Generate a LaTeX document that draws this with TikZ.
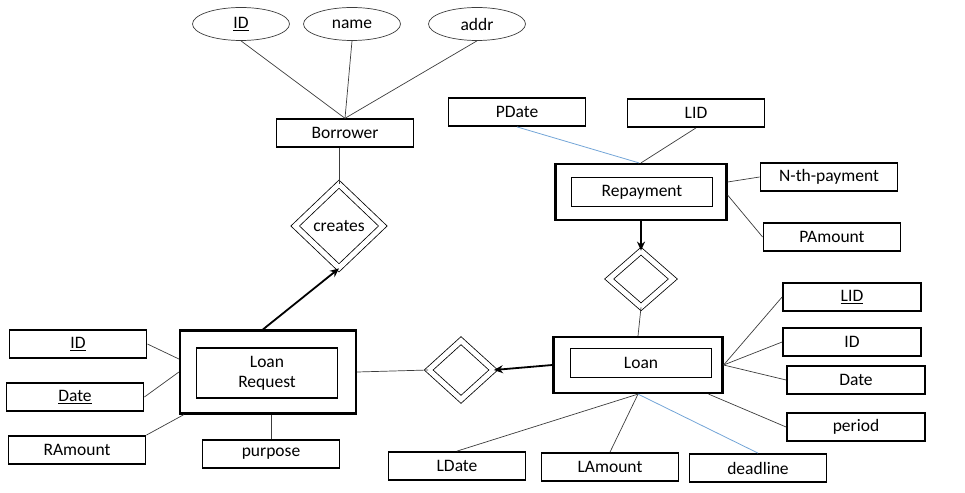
\documentclass[tikz,border=0pt]{standalone}
\usepackage{fontspec}
\setmainfont{Carlito}
\usetikzlibrary{shapes.geometric,arrows.meta}
\definecolor{lblue}{RGB}{115,165,215}
\definecolor{lgrey}{RGB}{60,60,60}
\tikzset{
  every node/.style={font=\fontsize{17.5}{20}\selectfont, inner sep=0pt},
  attr/.style={draw, line width=1.8pt, minimum width=137pt, minimum height=28pt},
  ell/.style={draw=lgrey, ellipse, line width=0.7pt, minimum width=97pt, minimum height=33pt},
  ent/.style={draw, line width=1.4pt, minimum width=137pt, minimum height=28pt},
  wkouter/.style={draw, line width=2.2pt},
  wkinner/.style={draw, line width=1.8pt, minimum width=141pt, align=center},
  rel/.style={draw, diamond, double, double distance=5pt, line width=0.8pt},
  conn/.style={line width=0.7pt, draw=lgrey},
  bconn/.style={line width=0.8pt, draw=lblue},
  arr/.style={line width=1.8pt, -{Stealth[length=9pt,width=8pt]}}
}
\begin{document}
\begin{tikzpicture}[x=1pt,y=-1pt]
\useasboundingbox (0,0) rectangle (965,492);
% Borrower
\node[ell] (eid) at (241,24) {\underline{ID}};
\node[ell] (ename) at (352,24) {name};
\node[ell] (eaddr) at (477,24) {addr};
\node[ent] (borrower) at (345,133) {Borrower};
\node[rel, minimum width=88pt, minimum height=84pt] (creates) at (339,226) {creates};
% Loan Request
\node[wkouter, minimum width=176pt, minimum height=83pt] (lro) at (268,372) {};
\node[wkinner, minimum height=50pt] (lri) at (267,373) {Loan\\Request};
\node[attr] (lid) at (78,344) {\underline{ID}};
\node[attr] (ldate) at (75,397) {\underline{Date}};
\node[attr] (lramount) at (77,450) {RAmount};
\node[attr] (lpurpose) at (271,454) {purpose};
% middle relation
\node[rel, minimum width=65pt, minimum height=59pt] (mid) at (461,370) {};
% Loan
\node[wkouter, minimum width=169pt, minimum height=56pt] (loo) at (638,365) {};
\node[wkinner, minimum height=29pt] (loi) at (641,363) {Loan};
\node[attr] (ldate2) at (457,466) {LDate};
\node[attr] (lamount) at (610,467) {LAmount};
\node[attr] (deadline) at (758,468) {deadline};
\node[attr, minimum width=138pt] (rlid2) at (852,297) {\underline{LID}};
\node[attr, minimum width=138pt] (rid) at (852,342) {ID};
\node[attr, minimum width=138pt] (rdate) at (856,380) {Date};
\node[attr, minimum width=138pt] (rperiod) at (856,427) {period};
% top relation
\node[rel, minimum width=64pt, minimum height=56pt] (top) at (641,279) {};
% Repayment
\node[wkouter, minimum width=171pt, minimum height=56pt] (ro) at (641,192) {};
\node[wkinner, minimum height=29pt] (ri) at (642,192) {Repayment};
\node[attr] (pdate) at (517,112) {PDate};
\node[attr] (rlid) at (696,113) {LID};
\node[attr] (nth) at (829,177) {N-th-payment};
\node[attr] (pamount) at (832,237) {PAmount};
% connectors
\draw[conn] (eid.south) -- (borrower.north);
\draw[conn] (ename.south) -- (borrower.north);
\draw[conn] (eaddr.south) -- (borrower.north);
\draw[conn] (creates.north |- borrower.south) -- (creates.north);
\draw[arr] ([xshift=-5pt]lro.north) -- (creates.south);
\draw[conn] (lid.east) -- ([yshift=13pt]lro.west);
\draw[conn] (ldate.east) -- (lro.west);
\draw[conn] (lramount.north east) -- ([xshift=5pt]lro.south west);
\draw[conn] (lpurpose.north) -- (lpurpose.north |- lro.south);
\draw[conn] (lro.east) -- (mid.west);
\draw[arr] (loo.west) -- (mid.east);
\draw[arr] (top.north |- ro.south) -- (top.north);
\draw[conn] (top.south) -- (loo.north);
\draw[bconn] (pdate.south) -- ([xshift=-2pt]ro.north);
\draw[conn] (rlid.south) -- (ro.north);
\draw[conn] ([yshift=10pt]ro.east) -- (nth.west);
\draw[conn] ([yshift=-3pt]ro.east) -- (pamount.west);
\draw[conn] (loo.east) -- (rlid2.west);
\draw[conn] (loo.east) -- (rid.west);
\draw[conn] (loo.east) -- (rdate.west);
\draw[conn] ([xshift=-15pt]loo.south east) -- (rperiod.west);
\draw[conn] (ldate2.north) -- (loo.south);
\draw[conn] (lamount.north) -- (loo.south);
\draw[bconn] (deadline.north) -- (loo.south);
\end{tikzpicture}
\end{document}
